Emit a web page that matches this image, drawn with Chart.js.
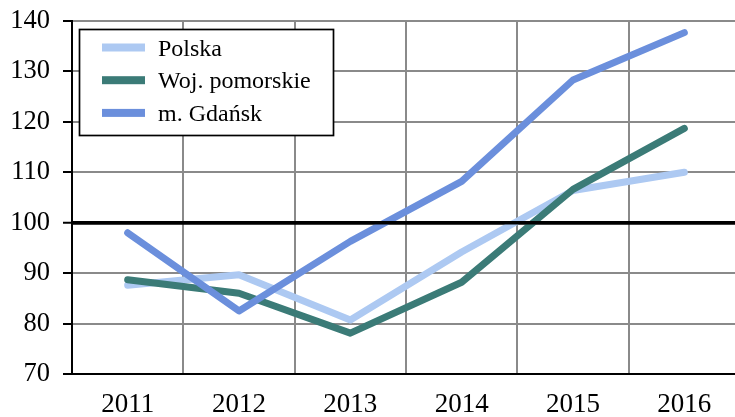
<!DOCTYPE html>
<html>
<head>
<meta charset="utf-8">
<script src="https://cdn.jsdelivr.net/npm/chart.js@4"></script>
<style>
  html, body { margin: 0; padding: 0; background: #fff; overflow: hidden; }
  #wrap { width: 740px; height: 417px; }
</style>
</head>
<body>
<div id="wrap"><canvas id="chart" width="740" height="417"></canvas></div>
<script>
// ============================================
// DATA
// ============================================
const years = ['2011', '2012', '2013', '2014', '2015', '2016'];
const polska = [87.6, 89.7, 80.7, 94.2, 106.4, 110.0];
const pomorskie = [88.7, 86.0, 78.1, 88.2, 106.6, 118.7];
const gdansk = [98.0, 82.5, 96.3, 108.2, 128.3, 137.7];
const seriesNames = ['Polska', 'Woj. pomorskie', 'm. Gdańsk'];
const yTicks = [70, 80, 90, 100, 110, 120, 130, 140];
const baseLine = 100;

const FONT = '"Liberation Serif", "Times New Roman", serif';
const GRID = '#8a8a8a';
const PLOT_TOP = 21;

// legend box drawn inside the plot, top-left
const boxLegend = {
  id: 'boxLegend',
  afterDraw(chart) {
    const ctx = chart.ctx;
    ctx.save();
    ctx.fillStyle = '#fff';
    ctx.fillRect(79.5, 29.5, 254, 106);
    ctx.strokeStyle = '#000';
    ctx.lineWidth = 1.7;
    ctx.strokeRect(79.5, 29.5, 254, 106);
    ctx.font = '24px ' + FONT;
    ctx.textBaseline = 'alphabetic';
    chart.data.datasets.forEach((ds, i) => {
      const y = 47.5 + i * 32.7;
      ctx.fillStyle = ds.borderColor;
      ctx.fillRect(102, y - 4, 43, 8);
      ctx.fillStyle = '#000';
      ctx.fillText(ds.label, 158, y + 8);
    });
    ctx.restore();
  }
};

// black reference line at 100, over the series
const refLine = {
  id: 'refLine',
  afterDatasetsDraw(chart) {
    const { ctx, chartArea, scales } = chart;
    const y = scales.y.getPixelForValue(baseLine);
    ctx.save();
    ctx.strokeStyle = '#000';
    ctx.lineWidth = 3.5;
    ctx.beginPath();
    ctx.moveTo(chartArea.left, y);
    ctx.lineTo(chartArea.right, y);
    ctx.stroke();
    ctx.restore();
  }
};

const lineStyle = { borderWidth: 7, pointRadius: 0, borderCapStyle: 'round', borderJoinStyle: 'round', tension: 0, fill: false };

new Chart(document.getElementById('chart'), {
  type: 'line',
  data: {
    labels: years,
    datasets: [
      { label: seriesNames[0], data: polska, borderColor: '#adc9f2', order: 3, ...lineStyle },
      { label: seriesNames[1], data: pomorskie, borderColor: '#3b7b77', order: 2, ...lineStyle },
      { label: seriesNames[2], data: gdansk, borderColor: '#6b8fdc', order: 1, ...lineStyle }
    ]
  },
  options: {
    responsive: false,
    animation: false,
    devicePixelRatio: 1,
    layout: { padding: { top: PLOT_TOP, left: 0, right: 0, bottom: 0 } },
    plugins: { legend: { display: false }, tooltip: { enabled: false } },
    scales: {
      x: {
        offset: true,
        grid: { offset: true, color: GRID, lineWidth: 2, drawTicks: false },
        border: { color: '#000', width: 2 },
        ticks: { color: '#000', font: { family: FONT, size: 27 }, padding: 15, maxRotation: 0 },
        afterFit: (s) => { s.height = 43; }
      },
      y: {
        min: yTicks[0],
        max: yTicks[yTicks.length - 1],
        afterBuildTicks: (s) => { s.ticks = yTicks.map(v => ({ value: v })); },
        grid: {
          color: (c) => c.tick && c.tick.value === baseLine ? '#000' : GRID,
          lineWidth: (c) => c.tick && c.tick.value === baseLine ? 3.5 : 2,
          tickColor: '#000',
          tickWidth: 2,
          tickLength: 9
        },
        border: { color: '#000', width: 2 },
        ticks: { color: '#000', font: { family: FONT, size: 26.5 }, padding: 13 },
        afterFit: (s) => { s.width = 72; s.paddingTop = 0; s.paddingBottom = 0; }
      }
    }
  },
  plugins: [refLine, boxLegend]
});
</script>
</body>
</html>
